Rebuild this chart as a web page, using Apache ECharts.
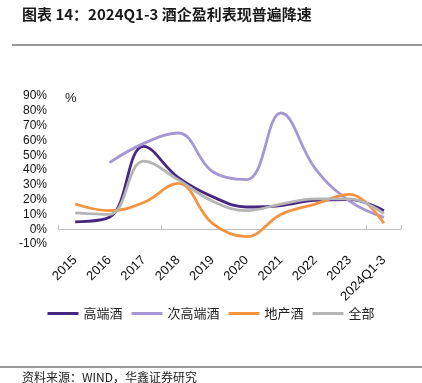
<!DOCTYPE html>
<html><head><meta charset="utf-8">
<script src="https://cdn.jsdelivr.net/npm/echarts@6/dist/echarts.min.js"></script>
<style>html,body{margin:0;padding:0;background:#fff}#c{width:422px;height:383px}</style>
</head><body><div id="c"></div>
<script>
const categories = ['2015','2016','2017','2018','2019','2020','2021','2022','2023','2024Q1-3'];
const highEnd = [5, 8, 56, 35, 22, 15, 16, 19.5, 20, 12.5];
const subHighEnd = [null, 45, 58, 65, 39, 33.5, 78.5, 41, 19, 8];
const regional = [17, 12.5, 18, 31, 4, -5, 10, 17, 23.5, 4];
const allLiquor = [11, 10, 46, 33.5, 19, 12.5, 17, 20.5, 20.5, 10.5];
const seriesNames = ['高端酒','次高端酒','地产酒','全部'];
const yTicks = {min: -10, max: 90, interval: 10};

const chart = echarts.init(document.getElementById('c'), null, {renderer:'canvas'});
const font = 'Liberation Sans, Arial, sans-serif';
const cjk = 'Noto Sans CJK SC, sans-serif';
function line(name, data, color){
  return {name, type:'line', data, smooth:0.4, showSymbol:false, symbol:'none',
    connectNulls:false, lineStyle:{width:2.8, color}, itemStyle:{color}, xAxisIndex:0};
}
chart.setOption({
  animation:false,
  grid:{left:58, right:21, top:96, bottom:139},
  graphic:[
    {type:'text', left:22, top:7, style:{text:'图表 14：2024Q1-3 酒企盈利表现普遍降速', font:'bold 15px '+cjk, fill:'#1a1a1a'}},
    {type:'line', shape:{x1:12,y1:45,x2:422,y2:45}, style:{stroke:'#333',lineWidth:1}},
    {type:'line', shape:{x1:0,y1:367,x2:422,y2:367}, style:{stroke:'#999',lineWidth:2}},
    {type:'text', left:22, top:371, style:{text:'资料来源：WIND，华鑫证券研究', font:'12px '+cjk, fill:'#222'}}
  ],
  legend:{data:seriesNames, bottom:58, left:'center', itemWidth:31, itemHeight:3, itemGap:9,
    icon:'rect', textStyle:{fontFamily:cjk, fontSize:13, color:'#222'}},
  xAxis:[
    {type:'category', data:categories, boundaryGap:true,
      axisLine:{onZero:true, lineStyle:{color:'#bfbfbf', width:1}},
      axisTick:{show:true, inside:true, length:4, lineStyle:{color:'#bfbfbf'}},
      axisLabel:{show:false}, splitLine:{show:false}},
    {type:'category', data:categories, boundaryGap:true, position:'bottom',
      axisLine:{show:false, onZero:false}, axisTick:{show:false},
      axisLabel:{rotate:45, margin:14, fontSize:13, fontFamily:font, color:'#111', interval:0},
      splitLine:{show:false}}
  ],
  yAxis:{type:'value', min:yTicks.min, max:yTicks.max, interval:yTicks.interval,
    name:'%', nameLocation:'end', nameGap:4,
    nameTextStyle:{fontSize:13, fontFamily:font, color:'#111', align:'left', padding:[0,0,0,7], verticalAlign:'top'},
    axisLine:{show:false}, axisTick:{show:false}, splitLine:{show:false},
    axisLabel:{formatter:'{value}%', fontSize:12, fontFamily:font, color:'#111', margin:11}},
  series:[
    line(seriesNames[0], highEnd, '#47277f'),
    line(seriesNames[1], subHighEnd, '#a597d3'),
    line(seriesNames[2], regional, '#f7923f'),
    line(seriesNames[3], allLiquor, '#b5b5b5')
  ]
});
</script></body></html>
